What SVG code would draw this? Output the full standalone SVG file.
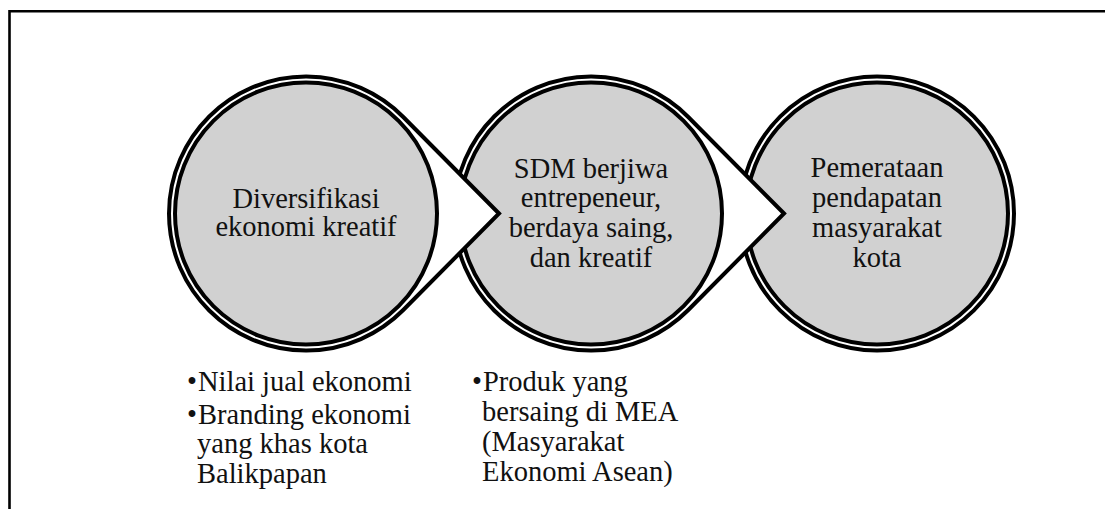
<svg xmlns="http://www.w3.org/2000/svg" width="1105" height="509" viewBox="0 0 1105 509">
<style>
.outer{fill:#fff;stroke:#000;stroke-width:4;stroke-linejoin:miter}
.inner{fill:#d1d1d1;stroke:#000;stroke-width:4}
.t{font-family:"Liberation Serif","Times New Roman",serif;font-size:28.5px;fill:#111}
.c{text-anchor:middle}
</style>
<rect width="1105" height="509" fill="#fff"/>
<path d="M9.5 509 V11.3 H1105" fill="none" stroke="#000" stroke-width="2.6"/>
<g id="node3">
<circle class="outer" cx="877" cy="213.5" r="137"/>
<circle class="inner" cx="877" cy="213.5" r="131"/>
<text class="t c" x="877"><tspan x="877" y="177">Pemerataan</tspan><tspan x="877" y="207">pendapatan</tspan><tspan x="877" y="237">masyarakat</tspan><tspan x="877" y="267">kota</tspan></text>
</g>
<g id="node2">
<path class="outer" d="M784 213.5 L688.25 117 A137 137 0 1 0 688.25 310 Z"/>
<circle class="inner" cx="591" cy="213.5" r="131"/>
<text class="t c" x="591"><tspan x="591" y="178">SDM berjiwa</tspan><tspan x="591" y="207">entrepeneur,</tspan><tspan x="591" y="237">berdaya saing,</tspan><tspan x="591" y="267">dan kreatif</tspan></text>
</g>
<g id="node1">
<path class="outer" d="M499 213.5 L403.25 117 A137 137 0 1 0 403.25 310 Z"/>
<circle class="inner" cx="306" cy="213.5" r="131"/>
<text class="t c" x="306"><tspan x="306" y="208">Diversifikasi</tspan><tspan x="306" y="236">ekonomi kreatif</tspan></text>
</g>
<g id="connectors"></g>
<g id="list1">
<text class="t"><tspan x="187" y="391">•</tspan><tspan x="198" y="391">Nilai jual ekonomi</tspan></text>
<text class="t"><tspan x="187" y="424">•</tspan><tspan x="198" y="424">Branding ekonomi</tspan><tspan x="197" y="453">yang khas kota</tspan><tspan x="197" y="483">Balikpapan</tspan></text>
</g>
<g id="list2">
<text class="t"><tspan x="472" y="391">•</tspan><tspan x="483" y="391">Produk yang</tspan><tspan x="482" y="421">bersaing di MEA</tspan><tspan x="482" y="451">(Masyarakat</tspan><tspan x="482" y="481">Ekonomi Asean)</tspan></text>
</g>
</svg>
